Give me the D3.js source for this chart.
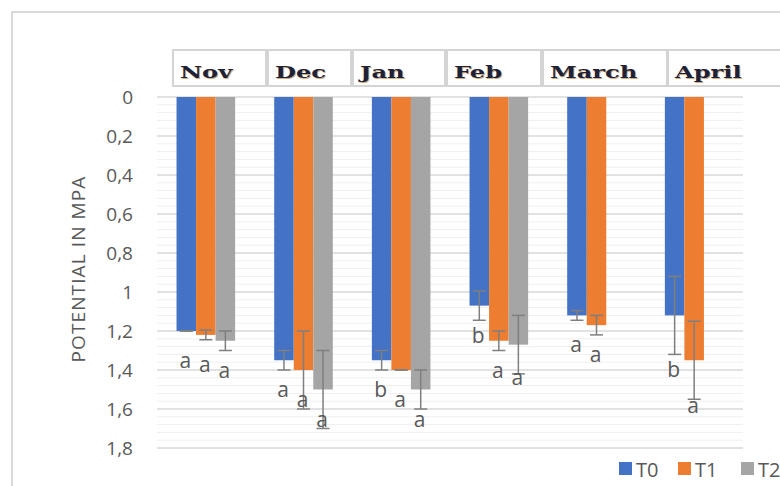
<!DOCTYPE html>
<html><head><meta charset="utf-8">
<script src="https://cdn.jsdelivr.net/npm/d3@7/dist/d3.min.js"></script>
<style>body{margin:0;background:#fff;} svg{display:block;}</style>
</head><body><svg id="c" width="780" height="486"></svg>
<script>
// ---- data ----
const months = ["Nov", "Dec", "Jan", "Feb", "March", "April"];
const seriesNames = ["T0", "T1", "T2"];
const t0 = [1.20, 1.35, 1.35, 1.07, 1.12, 1.12];
const t1 = [1.22, 1.40, 1.40, 1.25, 1.17, 1.35];
const t2 = [1.25, 1.50, 1.50, 1.27, null, null];
const err0 = [0, 0.05, 0.05, 0.075, 0.025, 0.2];
const err1 = [0.025, 0.2, 0, 0.05, 0.05, 0.2];
const err2 = [0.05, 0.2, 0.1, 0.15, null, null];
const let0 = ["a", "a", "b", "b", "a", "b"];
const let1 = ["a", "a", "a", "a", "a", "a"];
const let2 = ["a", "a", "a", "a", null, null];
const yTicks = [0, 0.2, 0.4, 0.6, 0.8, 1, 1.2, 1.4, 1.6, 1.8];
const yTitle = "POTENTIAL IN MPA";

// ---- layout / style ----
const colors = {T0: "#4472C4", T1: "#ED7D31", T2: "#A5A5A5"};
const headerCells = [[173, 266], [268, 351], [353, 445], [447, 541], [543, 667], [668, 800]];
const labelNudge = {"April-T0": 25, "April-T1": 16, "Feb-T2": 3};

const values = [t0, t1, t2], errs = [err0, err1, err2], lets = [let0, let1, let2];
const rows = [];
months.forEach((m, i) => seriesNames.forEach((s, k) => {
  if (values[k][i] != null) rows.push({m, s, v: values[k][i], e: errs[k][i], l: lets[k][i]});
}));

const svg = d3.select("#c");
svg.append("path").attr("d", "M12,490 V12 H790").attr("fill", "none")
  .attr("stroke", "#d9d9d9").attr("stroke-width", 2);

const x = d3.scaleBand().domain(months).range([157, 743]).padding(0);
const groupW = x.bandwidth() * 0.6;
const x1 = d3.scaleBand().domain(seriesNames).range([0, groupW]);
const y = d3.scaleLinear().domain([0, 1.8]).range([97, 448]);
const gx = m => x(m) + (x.bandwidth() - groupW) / 2;

// minor gridlines
const minorTicks = d3.range(0, 46).map(i => +(i * 0.04).toFixed(2)).filter(t => Math.abs(t / 0.2 - Math.round(t / 0.2)) > 1e-6);
svg.append("g").selectAll("line").data(minorTicks).join("line")
  .attr("x1", 157).attr("x2", 743).attr("y1", d => y(d)).attr("y2", d => y(d))
  .attr("stroke", "#efefef").attr("stroke-width", 1);
svg.append("g").selectAll("line").data(yTicks).join("line")
  .attr("x1", 157).attr("x2", 743).attr("y1", d => y(d)).attr("y2", d => y(d))
  .attr("stroke", "#d9d9d9").attr("stroke-width", 1.3);

// y axis
const ax = svg.append("g").attr("transform", "translate(157,0)")
  .call(d3.axisLeft(y).tickValues(yTicks).tickSize(0).tickPadding(24)
    .tickFormat(d => String(d).replace(".", ",")));
ax.select(".domain").remove();
ax.selectAll("text").attr("font-family", "'Open Sans', sans-serif").attr("font-size", 19)
  .attr("fill", "#595959");

svg.append("text").attr("transform", "translate(85,269) rotate(-90)")
  .attr("text-anchor", "middle").attr("font-family", "'Open Sans', sans-serif")
  .attr("font-size", 19).attr("letter-spacing", 1.1).attr("fill", "#595959").text(yTitle);

// bars
svg.append("g").selectAll("rect").data(rows).join("rect")
  .attr("x", d => gx(d.m) + x1(d.s)).attr("width", x1.bandwidth())
  .attr("y", y(0)).attr("height", d => y(d.v) - y(0)).attr("fill", d => colors[d.s]);

// error bars
const eg = svg.append("g").attr("stroke", "#7f7f7f").attr("stroke-width", 1.5).attr("fill", "none");
rows.forEach(d => {
  const cx = gx(d.m) + x1(d.s) + x1.bandwidth() / 2;
  const y1 = y(d.v - d.e), y2 = y(d.v + d.e);
  if (d.e > 0) eg.append("line").attr("x1", cx).attr("x2", cx).attr("y1", y1).attr("y2", y2);
  [y1, y2].forEach(yy => eg.append("line").attr("x1", cx - 6.5).attr("x2", cx + 6.5).attr("y1", yy).attr("y2", yy));
});

// letters
svg.append("g").selectAll("text").data(rows.filter(d => d.l)).join("text")
  .attr("x", d => gx(d.m) + x1(d.s) + x1.bandwidth() / 2 - 1)
  .attr("y", d => y(d.v) + 37 + (labelNudge[d.m + "-" + d.s] || 0))
  .attr("text-anchor", "middle").attr("font-family", "'Open Sans', sans-serif")
  .attr("font-size", 21).attr("fill", "#595959").text(d => d.l);

// month header cells
const hg = svg.append("g");
months.forEach((m, i) => {
  const [a, b] = headerCells[i];
  hg.append("rect").attr("x", a).attr("y", 50).attr("width", b - a).attr("height", 36)
    .attr("fill", "#fff").attr("stroke", "#d4d4d4").attr("stroke-width", 2);
  const tx = a + 7;
  hg.append("text").attr("transform", `translate(${tx + 1},${78.5}) scale(1.42,1)`)
    .attr("font-family", "'DejaVu Serif', serif").attr("font-weight", "bold").attr("font-size", 17)
    .attr("fill", "#c89a62").attr("opacity", 0.8).text(m);
  hg.append("text").attr("transform", `translate(${tx},${77.5}) scale(1.42,1)`)
    .attr("font-family", "'DejaVu Serif', serif").attr("font-weight", "bold").attr("font-size", 17)
    .attr("fill", "#1e2238").text(m);
});

// legend
const legX = {T0: 619, T1: 678, T2: 741};
const lg = svg.append("g");
seriesNames.forEach(s => {
  lg.append("rect").attr("x", legX[s]).attr("y", 462).attr("width", 13).attr("height", 13).attr("fill", colors[s]);
  lg.append("text").attr("x", legX[s] + 17).attr("y", 476.5).attr("font-family", "'Open Sans', sans-serif")
    .attr("font-size", 20).attr("fill", "#595959").text(s);
});
</script></body></html>
